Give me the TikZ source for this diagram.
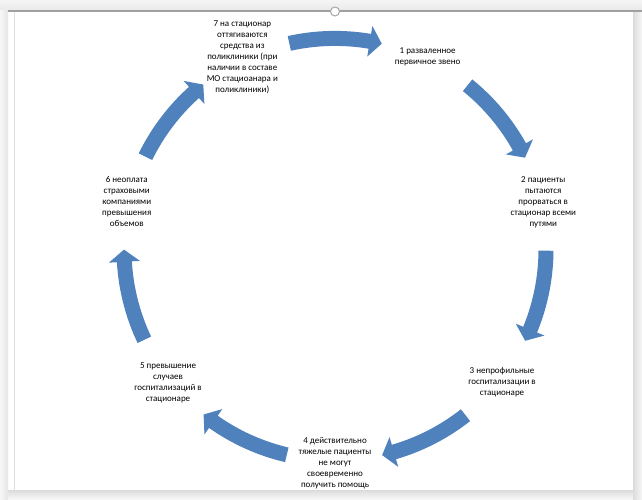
\documentclass[tikz,border=0pt]{standalone}
\usepackage{fontspec}
\setmainfont{Carlito}
\definecolor{arrowblue}{RGB}{79,129,189}
\definecolor{framegray}{RGB}{160,160,160}
\newcommand\cycarrow[1]{%
  \fill[cyc] ({#1+12.5}:218.5pt) arc[start angle={#1+12.5}, end angle={#1-9.5}, radius=218.5pt]
    -- ({#1-9.5}:226.5pt) -- ({#1-12.8}:211pt) -- ({#1-9.5}:195.5pt) -- ({#1-9.5}:203.5pt)
    arc[start angle={#1-9.5}, end angle={#1+12.5}, radius=203.5pt] -- cycle;}
\begin{document}
\begin{tikzpicture}[x=1pt,y=1pt,
  lbl/.style={align=center,font=\fontsize{9}{11}\selectfont,inner sep=0pt},
  cyc/.style={fill=arrowblue,draw=none}]
\useasboundingbox (0,0) rectangle (642,499);
\fill[white] (0,0) rectangle (642,499);
% window frame
\shade[top color=gray!8,bottom color=gray!18] (0,488) rectangle (642,499);
\shade[left color=gray!6,right color=gray!20] (0,0) rectangle (8,488);
\shade[left color=gray!28,right color=gray!6] (633,0) rectangle (642,488);
\shade[top color=gray!28,bottom color=gray!6] (8,0) rectangle (633,9);
\draw[framegray,line width=1.2pt] (8,488) -- (642,488);
\draw[gray!25] (14,9) -- (14,487);
\draw[gray!70,fill=white,line width=1pt] (335,487.5) circle (4.5);
\begin{scope}[shift={(335,249.6)}]
  \node[lbl] (n1) at (64.29:213.6) {1 разваленное\\первичное звено};
  \node[lbl] (n2) at (12.86:213.6) {2 пациенты\\пытаются\\прорваться в\\стационар всеми\\путями};
  \node[lbl] (n3) at (-38.57:213.6) {3 непрофильные\\госпитализации в\\стационаре};
  \node[lbl] (n4) at (-90:213.6) {4 действительно\\тяжелые пациенты\\не могут\\своевременно\\получить помощь};
  \node[lbl] (n5) at (-141.43:213.6) {5 превышение\\случаев\\госпитализаций в\\стационаре};
  \node[lbl] (n6) at (167.14:213.6) {6 неоплата\\страховыми\\компаниями\\превышения\\объемов};
  \node[lbl] (n7) at (115.71:213.6) {7 на стационар\\оттягиваются\\средства из\\поликлиники (при\\наличии в составе\\МО стациоанара и\\поликлиники)};
  \cycarrow{90}
  \cycarrow{38.57}
  \cycarrow{-12.86}
  \cycarrow{-64.29}
  \cycarrow{-115.71}
  \cycarrow{-167.14}
  \cycarrow{141.43}
\end{scope}
\end{tikzpicture}
\end{document}
